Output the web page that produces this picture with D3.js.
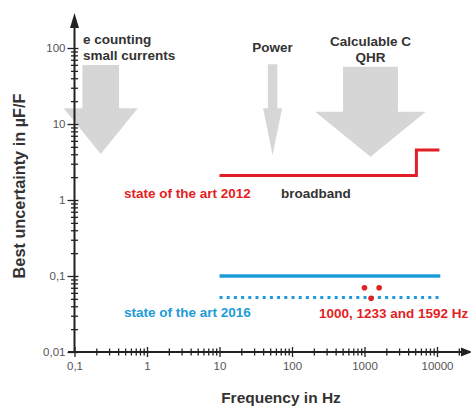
<!DOCTYPE html>
<html><head><meta charset="utf-8">
<script src="https://cdn.jsdelivr.net/npm/d3@7"></script>
<style>body{margin:0;background:#fff}svg{display:block}text{font-family:"Liberation Sans",Arial,sans-serif}</style>
</head><body>
<script>
// ---- data ----
const yDecades = [0.01, 0.1, 1, 10, 100];
const yDecadeLabels = ["0,01", "0,1", "1", "10", "100"];
const xDecades = [0.1, 1, 10, 100, 1000, 10000];
const xDecadeLabels = ["0,1", "1", "10", "100", "1000", "10000"];
const art2012Freq = [10, 5200, 5200, 10800];
const art2012Unc  = [2.1, 2.1, 4.55, 4.55];
const art2016Freq = [10, 11100];
const art2016Unc  = [0.1, 0.1];
const art2016DotFreq = [10, 11100];
const art2016DotUnc  = [0.052, 0.052];
const pointFreq = [1000, 1233, 1592];
const pointUnc  = [0.07, 0.051, 0.07];
const arrowFreq = [0.23, 54, 1210];
const arrowLabels = [["e counting", "small currents"], ["Power"], ["Calculable C", "QHR"]];

const W = 471, H = 406;
const svg = d3.select("body").append("svg").attr("width", W).attr("height", H);
const x = d3.scaleLog().domain([0.1, 10000]).range([74.5, 437]);
const y = d3.scaleLog().domain([0.01, 100]).range([352, 48]);

// ---- arrows (annotation shapes) ----
const arrowShapes = [
  {sw: 18.3, hw: 37, top: 65, base: 108.3, tip: 154},
  {sw: 4.7, hw: 9.5, top: 64.3, base: 108.3, tip: 155},
  {sw: 27.5, hw: 55.3, top: 66.7, base: 111.7, tip: 156.7}
];
arrowFreq.forEach((f, i) => {
  const c = x(f), s = arrowShapes[i];
  const pts = [[c - s.sw, s.top], [c + s.sw, s.top], [c + s.sw, s.base], [c + s.hw, s.base],
               [c, s.tip], [c - s.hw, s.base], [c - s.sw, s.base]];
  svg.append("path").attr("d", d3.line()(pts) + "Z").attr("fill", "#d6d6d6");
});

// ---- axes ----
const minorY = [], minorX = [];
[0.01, 0.1, 1, 10].forEach(d => { for (let k = 2; k <= 9; k++) minorY.push(d * k); });
[0.1, 1, 10, 100, 1000, 10000].forEach(d => { for (let k = 2; k <= 9; k++) minorX.push(d * k); });

const axisCol = "#222";
// y minor
const gyMin = svg.append("g").attr("transform", "translate(74.5,0)")
  .call(d3.axisLeft(y).tickValues(minorY).tickFormat("").tickSize(0));
gyMin.select(".domain").remove();
gyMin.selectAll(".tick line").attr("x1", -3.5).attr("x2", 3.5).attr("stroke", axisCol).attr("stroke-width", 1.3);
// y major
const gy = svg.append("g").attr("transform", "translate(74.5,0)")
  .call(d3.axisLeft(y).tickValues(yDecades).tickFormat((d, i) => yDecadeLabels[i]).tickSize(7).tickPadding(2));
gy.select(".domain").remove();
gy.selectAll(".tick line").attr("x1", -7).attr("x2", 4).attr("stroke", axisCol).attr("stroke-width", 1.3);
gy.selectAll(".tick text").attr("font-size", 11.5).attr("fill", "#555").attr("font-family", "Liberation Sans, Arial, sans-serif");

// x minor
const gxMin = svg.append("g").attr("transform", "translate(0,352)")
  .call(d3.axisBottom(x).tickValues(minorX.filter(d => d < 30000)).tickFormat("").tickSize(0));
gxMin.select(".domain").remove();
gxMin.selectAll(".tick line").attr("y1", -3.5).attr("y2", 3.5).attr("stroke", axisCol).attr("stroke-width", 1.3);
// x major
const gx = svg.append("g").attr("transform", "translate(0,352)")
  .call(d3.axisBottom(x).tickValues(xDecades).tickFormat((d, i) => xDecadeLabels[i]).tickSize(5).tickPadding(5));
gx.select(".domain").remove();
gx.selectAll(".tick line").attr("y1", -5).attr("y2", 5).attr("stroke", axisCol).attr("stroke-width", 1.3);
gx.selectAll(".tick text").attr("font-size", 11.5).attr("fill", "#555").attr("font-family", "Liberation Sans, Arial, sans-serif");

// axis lines with arrows
svg.append("line").attr("x1", 74.5).attr("x2", 74.5).attr("y1", 352).attr("y2", 22).attr("stroke", axisCol).attr("stroke-width", 2);
svg.append("path").attr("d", "M74.5,13 L79,28 L70,28 Z").attr("fill", axisCol);
svg.append("line").attr("x1", 68).attr("x2", 465).attr("y1", 352).attr("y2", 352).attr("stroke", axisCol).attr("stroke-width", 2);
svg.append("path").attr("d", "M472,352 L461,347.5 L461,356.5 Z").attr("fill", axisCol);

// ---- series ----
const line = d3.line().x(d => x(d[0])).y(d => y(d[1]));
svg.append("path").datum(art2012Freq.map((f, i) => [f, art2012Unc[i]]))
  .attr("d", line).attr("fill", "none").attr("stroke", "#e31e24").attr("stroke-width", 3);
svg.append("path").datum(art2016Freq.map((f, i) => [f, art2016Unc[i]]))
  .attr("d", line).attr("fill", "none").attr("stroke", "#1c9bd8").attr("stroke-width", 3.5);
svg.append("path").datum(art2016DotFreq.map((f, i) => [f, art2016DotUnc[i]]))
  .attr("d", line).attr("fill", "none").attr("stroke", "#1c9bd8").attr("stroke-width", 3).attr("stroke-dasharray", "3,4.2");
svg.selectAll("circle.pt").data(pointFreq.map((f, i) => [f, pointUnc[i]])).enter()
  .append("circle").attr("class", "pt").attr("cx", d => x(d[0])).attr("cy", d => y(d[1])).attr("r", 2.8).attr("fill", "#e31e24");

// ---- annotation texts ----
const dark = "#333";
const tb = (t, xx, yy, col, anchor, size) => svg.append("text").text(t).attr("x", xx).attr("y", yy)
  .attr("fill", col).attr("font-weight", "bold").attr("font-size", size || 13.5).attr("text-anchor", anchor || "start");
tb(arrowLabels[0][0], 83, 44, dark);
tb(arrowLabels[0][1], 83, 60, dark);
tb(arrowLabels[1][0], x(arrowFreq[1]), 52, dark, "middle");
tb(arrowLabels[2][0], x(arrowFreq[2]), 46, dark, "middle");
tb(arrowLabels[2][1], x(arrowFreq[2]), 62, dark, "middle");
tb("state of the art 2012", 124, 198, "#e31e24");
tb("broadband", 281, 198, dark);
tb("state of the art 2016", 124, 317, "#1c9bd8");
tb("1000, 1233 and 1592 Hz", 319, 318, "#e31e24");
tb("Frequency in Hz", 281, 403, dark, "middle", 15.5);
svg.append("text").text("Best uncertainty in µF/F").attr("transform", "translate(25,186) rotate(-90)")
  .attr("text-anchor", "middle").attr("font-weight", "bold").attr("font-size", 16.3).attr("fill", dark);
</script>
</body></html>
